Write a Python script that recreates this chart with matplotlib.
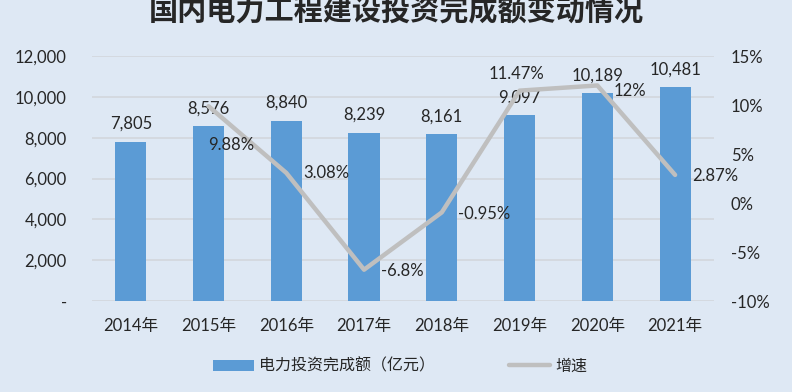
import matplotlib
matplotlib.use("Agg")
import matplotlib.pyplot as plt
from matplotlib.ticker import FixedLocator, FuncFormatter

plt.rcParams['font.family'] = ['Lato', 'Noto Sans CJK SC', 'DejaVu Sans']

years = ["2014年", "2015年", "2016年", "2017年", "2018年", "2019年", "2020年", "2021年"]
investment = [7805, 8576, 8840, 8239, 8161, 9097, 10189, 10481]
growth_years_idx = [1, 2, 3, 4, 5, 6, 7]
growth = [9.88, 3.08, -6.8, -0.95, 11.47, 12.0, 2.87]
growth_labels = ["9.88%", "3.08%", "-6.8%", "-0.95%", "11.47%", "12%", "2.87%"]
left_ticks = [0, 2000, 4000, 6000, 8000, 10000, 12000]
right_ticks = [-10, -5, 0, 5, 10, 15]

bg = '#DEE8F4'
bar_color = '#5B9BD5'
line_color = '#BFBFBF'
text_color = '#262626'

fig = plt.figure(figsize=(7.92, 3.92), dpi=100, facecolor=bg)
ax = fig.add_axes([0.116, 0.232, 0.9015 - 0.116, 0.857 - 0.232])
ax.set_facecolor(bg)
x = list(range(len(years)))
bars = ax.bar(x, investment, width=0.4, color=bar_color, zorder=2, label="电力投资完成额（亿元）")
ax.set_ylim(0, 12000)
ax.set_xlim(-0.5, len(years) - 0.5)
ax.yaxis.set_major_locator(FixedLocator(left_ticks))
ax.yaxis.set_major_formatter(FuncFormatter(lambda v, p: "-" if v == 0 else f"{int(v):,}"))
ax.grid(axis='y', color='#D3D7DC', linewidth=1.2, zorder=0)
ax.set_axisbelow(True)
for s in ax.spines.values():
    s.set_visible(False)
ax.tick_params(axis='both', length=0, labelsize=12, colors=text_color)
ax.tick_params(axis='y', pad=18)
ax.tick_params(axis='x', pad=12)
ax.set_xticks(x)
ax.set_xticklabels(years)

for xi, v in zip(x, investment):
    ax.annotate(f"{v:,}", (xi, v), xytext=(0, 7), textcoords='offset points',
                ha='center', va='bottom', fontsize=12, color=text_color, zorder=5)

ax2 = ax.twinx()
ax2.set_ylim(-10, 15)
ax2.yaxis.set_major_locator(FixedLocator(right_ticks))
ax2.yaxis.set_major_formatter(FuncFormatter(lambda v, p: f"{int(v)}%"))
for s in ax2.spines.values():
    s.set_visible(False)
ax2.tick_params(axis='y', length=0, labelsize=12, colors=text_color, pad=12)
gx = [x[i] for i in growth_years_idx]
line, = ax2.plot(gx, growth, color=line_color, linewidth=3.2, zorder=3, label="增速",
                 solid_capstyle='round', solid_joinstyle='round')

offsets = [(16, -28, 'center'), (12, 0, 'left'), (12, -1, 'left'), (12, -1, 'left'),
           (-2, 12, 'center'), (12, -4, 'left'), (12, -1, 'left')]
for xi, v, lab, (dx, dy, ha) in zip(gx, growth, growth_labels, offsets):
    ax2.annotate(lab, (xi, v), xytext=(dx, dy), textcoords='offset points',
                 ha=ha, va='center', fontsize=12, color=text_color, zorder=6)

fig.legend(handles=[bars, line], labels=["电力投资完成额（亿元）", "增速"],
           loc='center', bbox_to_anchor=(0.505, 1 - 366 / 392), ncol=2, frameon=False,
           fontsize=11.5, handlelength=2.6, columnspacing=4.6, handletextpad=0.3,
           labelcolor=text_color)

fig.text(0.5, 1 - 10 / 392, "国内电力工程建设投资完成额变动情况", ha='center', va='center',
         fontsize=21, fontweight='bold', color=text_color, family=['Noto Sans CJK SC', 'DejaVu Sans'])

fig.savefig("out.png", dpi=100, facecolor=bg)
